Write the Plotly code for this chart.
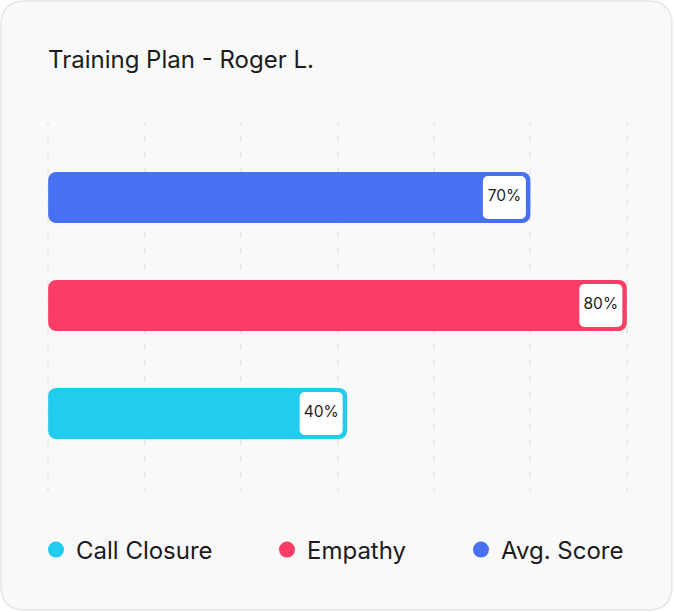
import plotly.graph_objects as go

# ---------------- data ----------------
categories = ["Call Closure", "Empathy", "Avg. Score"]
score_labels = ["40%", "80%", "70%"]
# bar lengths (grid interval = 1 unit)
bar_lengths = [3.1, 6.0, 5.0]
colors = ["#22CCEE", "#F93D66", "#4870F2"]
title_text = "Training Plan - Roger L."

# ---------------- geometry / style ----------------
W, H = 674, 612
ML, MR, MT, MB = 47, 46, 123, 121
PW, PH = W - ML - MR, H - MT - MB
X_RANGE = [-0.012, 6.012]
Y_RANGE = [-0.7176, 2.6898]
px_per_x = PW / (X_RANGE[1] - X_RANGE[0])
px_per_y = PH / (Y_RANGE[1] - Y_RANGE[0])
BAR_PX = 51
BOX_PX = 43
BOX_W_PX = 43
BOX_INSET_PX = 4.5
FONT = "Inter, Roboto, sans-serif"
TEXT_COLOR = "#1b1b1b"


def to_paper(px, py):
    return (px - ML) / PW, (H - MB - py) / PH


fig = go.Figure()

# rounded bars: two overlapping halves, each rounded at its far end
for cat, L, col in zip(categories, bar_lengths, colors):
    w = BAR_PX / px_per_y
    fig.add_trace(go.Bar(y=[cat], x=[L * 0.5], base=[L * 0.5], orientation="h",
                         width=w, marker=dict(color=col, line=dict(width=0), cornerradius=8),
                         showlegend=False, hoverinfo="skip"))
    fig.add_trace(go.Bar(y=[cat], x=[-L * 0.6], base=[L * 0.6], orientation="h",
                         width=w, marker=dict(color=col, line=dict(width=0), cornerradius=8),
                         showlegend=False, hoverinfo="skip"))

# white label boxes
box_centers = []
for cat, L in zip(categories, bar_lengths):
    right = L - BOX_INSET_PX / px_per_x
    bw = BOX_W_PX / px_per_x
    left = right - bw
    mid = (left + right) / 2
    box_centers.append(mid)
    hw = BOX_PX / px_per_y
    fig.add_trace(go.Bar(y=[cat], x=[right - mid + 0.05], base=[mid - 0.05], orientation="h",
                         width=hw, marker=dict(color="white", line=dict(width=0), cornerradius=5),
                         showlegend=False, hoverinfo="skip"))
    fig.add_trace(go.Bar(y=[cat], x=[left - mid - 0.05], base=[mid + 0.05], orientation="h",
                         width=hw, marker=dict(color="white", line=dict(width=0), cornerradius=5),
                         showlegend=False, hoverinfo="skip"))

fig.add_trace(go.Scatter(y=categories, x=box_centers, text=score_labels, mode="text",
                         textfont=dict(family=FONT, size=15.5, color=TEXT_COLOR),
                         showlegend=False, hoverinfo="skip"))

# legend entries (circles), each in its own legend for justified spacing
legend_names = ["legend", "legend2", "legend3"]
legend_marker_px = [56, 287, 481]
for cat, col, lg in zip(categories, colors, legend_names):
    fig.add_trace(go.Scatter(x=[None], y=[None], mode="markers", name=cat,
                             marker=dict(color=col, size=16, symbol="circle"),
                             legend=lg))

legend_common = dict(orientation="h", xref="container", yref="container",
                     xanchor="left", yanchor="middle", y=1 - 550 / H,
                     bgcolor="rgba(0,0,0,0)", borderwidth=0,
                     font=dict(family=FONT, size=24, color=TEXT_COLOR),
                     itemwidth=30)
layout_legends = {}
for lg, mx in zip(legend_names, legend_marker_px):
    layout_legends[lg] = dict(legend_common, x=(mx - 20) / W)

# card background
x0, y0, x1, y1, r = 1, 1, 672, 610, 24
def P(px, py):
    a, b = to_paper(px, py)
    return f"{a:.5f},{b:.5f}"
path = (f"M {P(x0 + r, y0)} L {P(x1 - r, y0)} Q {P(x1, y0)} {P(x1, y0 + r)} "
        f"L {P(x1, y1 - r)} Q {P(x1, y1)} {P(x1 - r, y1)} "
        f"L {P(x0 + r, y1)} Q {P(x0, y1)} {P(x0, y1 - r)} "
        f"L {P(x0, y0 + r)} Q {P(x0, y0)} {P(x0 + r, y0)} Z")
fig.add_shape(type="path", path=path, xref="paper", yref="paper", layer="below",
              fillcolor="#F9F9F9", line=dict(color="#E6E6E6", width=1.5))

fig.update_layout(
    width=W, height=H,
    margin=dict(l=ML, r=MR, t=MT, b=MB, pad=0),
    paper_bgcolor="white", plot_bgcolor="rgba(0,0,0,0)",
    barmode="overlay",
    title=dict(text=title_text, x=48 / W, xref="container", xanchor="left",
               y=1 - 60 / H, yref="container", yanchor="middle",
               font=dict(family=FONT, size=24, color=TEXT_COLOR)),
    xaxis=dict(range=X_RANGE, dtick=1, tick0=0, showgrid=True, gridcolor="#EBEBEB",
               gridwidth=2, griddash="3px,9px,4px,0px", zeroline=False, showticklabels=False,
               ticks="", showline=False, fixedrange=True),
    yaxis=dict(type="category", categoryorder="array", categoryarray=categories,
               range=Y_RANGE, showgrid=False, zeroline=False, showticklabels=False,
               ticks="", showline=False, fixedrange=True),
    showlegend=True,
    **layout_legends,
)

fig.write_html("out.html", config={"displayModeBar": False})
